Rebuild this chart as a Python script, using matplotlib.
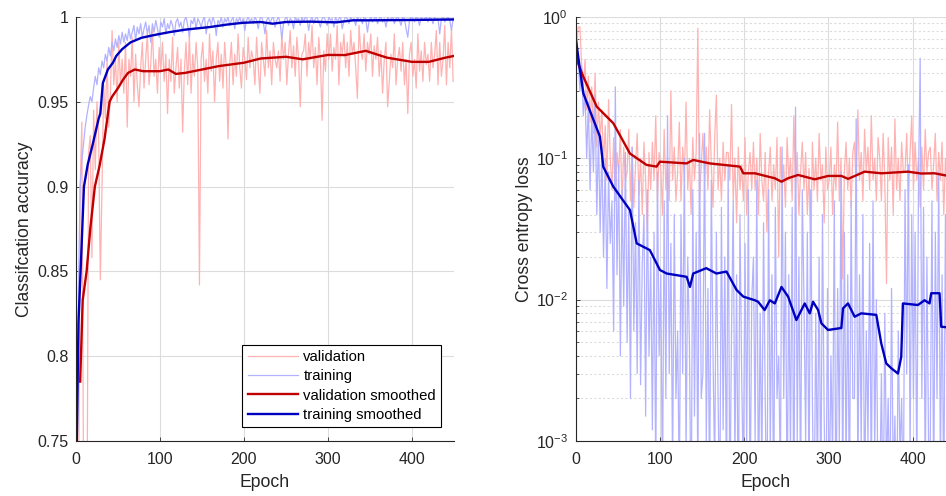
import numpy as np
import matplotlib
matplotlib.use('Agg')
import matplotlib.pyplot as plt

plt.rcParams['font.family'] = ['Liberation Sans', 'DejaVu Sans']

# noisy curves sampled every 2 epochs (1, 3, 5, ..., 449)
noisy_epochs = list(range(1, 450, 2))

train_acc = [
    0.700, 0.840, 0.900, 0.915, 0.925, 0.935, 0.942, 0.948, 0.953, 0.950, 0.958, 0.965, 0.960, 0.970, 0.966,
    0.974, 0.970, 0.978, 0.974, 0.982, 0.977, 0.985, 0.980, 0.987, 0.982, 0.989, 0.984, 0.991, 0.985, 0.990,
    0.986, 0.993, 0.987, 0.991, 0.995, 0.986, 0.994, 0.990, 0.996, 0.988, 0.993, 0.997, 0.990, 0.995, 0.985,
    0.996, 0.991, 0.998, 0.993, 0.988, 0.997, 0.994, 0.999, 0.990, 0.996, 0.993, 0.998, 0.995, 0.989, 0.997,
    0.999, 0.994, 0.997, 0.991, 0.998, 1.000, 0.995, 0.988, 0.998, 0.996, 1.000, 0.993, 0.999, 0.997, 0.994,
    0.998, 1.000, 0.990, 0.997, 0.999, 0.995, 1.000, 0.997, 0.989, 0.998, 0.996, 1.000, 0.994, 0.999, 0.997,
    1.000, 0.995, 0.998, 1.000, 0.993, 0.999, 0.997, 1.000, 0.996, 0.999, 0.992, 0.998, 1.000, 0.997, 0.999,
    0.996, 1.000, 0.998, 0.993, 0.999, 1.000, 0.997, 0.990, 0.998, 1.000, 0.996, 0.999, 1.000, 0.994, 0.998,
    1.000, 0.997, 0.987, 0.996, 0.999, 1.000, 0.995, 0.999, 0.998, 0.993, 1.000, 0.998, 0.999, 0.995, 1.000,
    0.997, 1.000, 0.999, 0.992, 0.998, 1.000, 0.996, 0.999, 1.000, 0.997, 0.994, 0.999, 1.000, 0.998, 0.995,
    1.000, 0.998, 0.999, 0.994, 1.000, 0.997, 0.999, 1.000, 0.993, 0.998, 1.000, 0.999, 0.996, 1.000, 0.998,
    0.999, 0.995, 1.000, 0.998, 0.999, 0.996, 1.000, 0.999, 0.991, 0.998, 1.000, 0.997, 0.999, 1.000, 0.996,
    0.999, 1.000, 0.997, 0.999, 0.994, 1.000, 0.998, 0.999, 1.000, 0.996, 0.999, 1.000, 0.998, 0.995, 1.000,
    0.999, 0.993, 0.988, 0.998, 1.000, 0.999, 0.997, 1.000, 0.999, 0.995, 1.000, 0.998, 0.999, 1.000, 0.997,
    1.000, 0.999, 0.996, 1.000, 0.998, 0.999, 0.990, 0.999, 1.000, 0.997, 0.999, 1.000, 0.998, 0.992, 0.999,
]

val_acc = [
    0.600, 0.700, 0.900, 0.938, 0.720, 0.650, 0.680, 0.920, 0.930, 0.858, 0.945, 0.910, 0.950, 0.930, 0.845,
    0.900, 0.960, 0.940, 0.975, 0.935, 0.955, 0.992, 0.960, 0.975, 0.950, 0.985, 0.960, 0.975, 0.955, 0.985,
    0.935, 0.975, 0.965, 0.988, 0.950, 0.978, 0.960, 0.947, 0.970, 0.985, 0.958, 0.975, 0.990, 0.960, 0.972,
    0.993, 0.965, 0.975, 0.955, 0.982, 0.968, 0.985, 0.962, 0.978, 0.943, 0.975, 0.962, 0.988, 0.955, 0.970,
    0.982, 0.958, 0.975, 0.932, 0.968, 0.985, 0.960, 0.990, 0.955, 0.978, 0.965, 0.985, 0.970, 0.842, 0.975,
    0.985, 0.962, 0.975, 0.955, 0.990, 0.968, 0.980, 0.950, 0.975, 0.985, 0.962, 0.978, 0.958, 0.985, 0.970,
    0.928, 0.972, 0.985, 0.960, 0.978, 0.965, 0.990, 0.970, 0.958, 0.982, 0.975, 0.963, 0.988, 0.970, 0.980,
    0.975, 0.960, 0.988, 0.970, 0.955, 0.985, 0.975, 0.965, 0.992, 0.970, 0.980, 0.960, 0.985, 0.975, 0.970,
    0.980, 0.962, 0.990, 0.975, 0.985, 0.960, 0.978, 0.992, 0.970, 0.983, 0.965, 0.988, 0.975, 0.947, 0.978,
    0.980, 0.990, 0.965, 0.985, 0.975, 0.995, 0.970, 0.982, 0.960, 0.988, 0.975, 0.939, 0.980, 0.968, 0.990,
    0.975, 0.990, 0.968, 0.982, 0.975, 0.995, 0.960, 0.985, 0.978, 0.990, 0.970, 0.985, 0.965, 0.992, 0.978,
    0.985, 0.970, 0.952, 0.995, 0.980, 0.975, 0.990, 0.968, 0.985, 0.978, 0.990, 0.965, 0.983, 0.975, 0.988,
    0.965, 0.980, 0.955, 0.975, 0.985, 0.947, 0.962, 0.978, 0.970, 0.990, 0.960, 0.975, 0.982, 0.968, 0.985,
    0.960, 0.975, 0.943, 0.978, 0.985, 0.965, 0.975, 0.958, 0.990, 0.968, 0.980, 0.962, 0.985, 0.972, 0.978,
    0.962, 0.985, 0.970, 0.978, 0.992, 0.960, 0.985, 0.965, 0.975, 0.995, 0.960, 0.985, 0.970, 0.993, 0.962,
]

train_loss = [
    0.70, 0.50, 0.30, 0.45, 0.20, 0.30, 0.10, 0.25, 0.06, 0.20, 0.08, 0.28, 0.04, 0.15, 0.03,
    0.12, 0.02, 0.10, 0.012, 0.08, 0.025, 0.05, 0.006, 0.32, 0.015, 0.09, 0.004, 0.06, 0.009, 0.11,
    0.005, 0.045, 0.002, 0.12, 0.006, 0.035, 0.003, 0.07, 0.0025, 0.018, 0.04, 0.0015, 0.06, 0.004, 0.02,
    0.0012, 0.03, 0.0005, 0.08, 0.004, 0.015, 0.0004, 0.05, 0.002, 0.2, 0.003, 0.025, 0.0006, 0.04, 0.002,
    0.006, 0.0004, 0.04, 0.003, 0.10, 0.0008, 0.02, 0.005, 0.0002, 0.06, 0.0015, 0.03, 0.0005, 0.15, 0.002,
    0.003, 0.15, 0.001, 0.012, 0.0004, 0.07, 0.004, 0.0006, 0.03, 0.002, 0.0003, 0.045, 0.0012, 0.02, 0.0004,
    0.09, 0.0003, 0.006, 0.05, 0.0007, 0.015, 0.0002, 0.04, 0.003, 0.0005, 0.025, 0.0009, 0.06, 0.0003, 0.01,
    0.02, 0.001, 0.07, 0.0003, 0.008, 0.0006, 0.035, 0.002, 0.0002, 0.06, 0.0008, 0.015, 0.0003, 0.045, 0.002,
    0.004, 0.0005, 0.12, 0.002, 0.03, 0.0003, 0.015, 0.0008, 0.045, 0.0002, 0.23, 0.001, 0.02, 0.0004, 0.06,
    0.01, 0.001, 0.03, 0.0004, 0.06, 0.002, 0.0002, 0.008, 0.0005, 0.02, 0.0003, 0.04, 0.0015, 0.0002, 0.012,
    0.0003, 0.004, 0.0007, 0.05, 0.0002, 0.012, 0.001, 0.08, 0.0004, 0.03, 0.0006, 0.015, 0.0003, 0.05, 0.002,
    0.002, 0.19, 0.0005, 0.015, 0.0009, 0.04, 0.0003, 0.006, 0.001, 0.025, 0.0004, 0.05, 0.0008, 0.01, 0.0003,
    0.0004, 0.003, 0.0002, 0.008, 0.0006, 0.002, 0.0003, 0.012, 0.0005, 0.0015, 0.0002, 0.006, 0.0008, 0.002, 0.0003,
    0.06, 0.003, 0.09, 0.0008, 0.04, 0.002, 0.03, 0.0005, 0.07, 0.51, 0.002, 0.045, 0.0005, 0.02, 0.0009,
    0.001, 0.05, 0.0004, 0.03, 0.002, 0.08, 0.0006, 0.015, 0.0003, 0.04, 0.0012, 0.025, 0.0004, 0.06, 0.003,
]

val_loss = [
    0.60, 0.85, 0.85, 0.45, 0.30, 0.50, 0.22, 0.38, 0.18, 0.32, 0.15, 0.40, 0.12, 0.25, 0.14,
    0.22, 0.09, 0.17, 0.07, 0.26, 0.10, 0.06, 0.14, 0.05, 0.11, 0.08, 0.16, 0.045, 0.12, 0.07,
    0.08, 0.16, 0.05, 0.12, 0.045, 0.09, 0.15, 0.055, 0.10, 0.04, 0.13, 0.07, 0.03, 0.11, 0.06,
    0.13, 0.07, 0.20, 0.05, 0.11, 0.085, 0.04, 0.16, 0.06, 0.10, 0.05, 0.30, 0.07, 0.12, 0.05,
    0.08, 0.18, 0.05, 0.12, 0.07, 0.25, 0.06, 0.10, 0.04, 0.14, 0.07, 0.11, 0.83, 0.05, 0.09,
    0.15, 0.07, 0.12, 0.06, 0.22, 0.09, 0.045, 0.14, 0.28, 0.06, 0.10, 0.05, 0.13, 0.07, 0.11,
    0.11, 0.07, 0.24, 0.05, 0.10, 0.035, 0.12, 0.06, 0.09, 0.05, 0.14, 0.04, 0.08, 0.11, 0.06,
    0.13, 0.06, 0.10, 0.04, 0.15, 0.07, 0.05, 0.11, 0.03, 0.08, 0.12, 0.05, 0.09, 0.06, 0.14,
    0.02, 0.12, 0.06, 0.09, 0.045, 0.14, 0.07, 0.10, 0.05, 0.20, 0.06, 0.11, 0.04, 0.08, 0.13,
    0.06, 0.11, 0.04, 0.085, 0.02, 0.13, 0.06, 0.10, 0.05, 0.15, 0.07, 0.09, 0.035, 0.12, 0.06,
    0.07, 0.12, 0.04, 0.09, 0.06, 0.18, 0.05, 0.10, 0.014, 0.08, 0.13, 0.06, 0.10, 0.045, 0.11,
    0.13, 0.06, 0.22, 0.07, 0.11, 0.05, 0.16, 0.08, 0.12, 0.06, 0.20, 0.07, 0.10, 0.05, 0.14,
    0.10, 0.05, 0.15, 0.07, 0.013, 0.14, 0.07, 0.12, 0.04, 0.19, 0.06, 0.10, 0.05, 0.13, 0.08,
    0.08, 0.15, 0.05, 0.11, 0.20, 0.06, 0.13, 0.07, 0.10, 0.045, 0.12, 0.06, 0.16, 0.08, 0.11,
    0.12, 0.06, 0.09, 0.15, 0.05, 0.11, 0.07, 0.13, 0.04, 0.10, 0.06, 0.14, 0.05, 0.11, 0.08,
]

# smoothed curves (epoch, value)
train_acc_s_ep = [1, 3, 5.5, 9.5, 14, 20, 27, 29, 32, 38, 44, 48, 55, 65, 78,
                  95, 111, 130, 159, 180, 198, 220, 234, 250, 280, 310, 330,
                  350, 400, 450]
train_acc_s = [0.75, 0.82, 0.85, 0.90, 0.913, 0.925, 0.94, 0.943, 0.961,
               0.969, 0.973, 0.977, 0.981, 0.985, 0.9877, 0.9895, 0.991,
               0.9925, 0.994, 0.9955, 0.9965, 0.997, 0.996, 0.997, 0.9972,
               0.9968, 0.998, 0.998, 0.9982, 0.9985]

val_acc_s_ep = [5, 8, 12.7, 17, 22.5, 28, 34, 40, 43, 50, 56, 62, 70, 80, 100,
                110, 119, 130, 150, 170, 200, 220, 250, 270, 300, 320, 345,
                370, 400, 420, 440, 450]
val_acc_s = [0.785, 0.833, 0.85, 0.875, 0.90, 0.912, 0.928, 0.950, 0.953,
             0.958, 0.963, 0.967, 0.969, 0.968, 0.968, 0.969, 0.9664, 0.967,
             0.969, 0.971, 0.973, 0.9755, 0.9765, 0.975, 0.9776, 0.9775,
             0.980, 0.976, 0.9735, 0.9735, 0.976, 0.977]

train_loss_s_ep = [0, 5.1, 9, 21, 28.8, 32.7, 44.6, 64.4, 72.4, 88, 100, 108,
                   131.7, 135.6, 139.5, 155, 167, 179, 191, 199, 212.7, 216.6,
                   224.3, 230.5, 236.4, 244.3, 252.2, 262, 271.9, 277.9,
                   281.8, 287.8, 291.7, 299.6, 315.4, 317.4, 323.3, 331.2,
                   339.1, 356.9, 362.8, 368.7, 374.7, 382.6, 386.5, 388.5,
                   406.3, 414.2, 420.1, 422.1, 432, 434, 450]
train_loss_s = [0.706, 0.42, 0.288, 0.187, 0.142, 0.087, 0.063, 0.043, 0.025,
                0.0224, 0.0162, 0.0153, 0.0145, 0.0123, 0.0153, 0.0167,
                0.0153, 0.0158, 0.0117, 0.0105, 0.0099, 0.00966, 0.00844,
                0.0099, 0.0094, 0.0123, 0.0105, 0.00717, 0.0094, 0.0080,
                0.00966, 0.00844, 0.0068, 0.0061, 0.0063, 0.00868, 0.0094,
                0.00757, 0.0080, 0.0078, 0.0049, 0.00354, 0.00327, 0.0030,
                0.00394, 0.0094, 0.00916, 0.0099, 0.0094, 0.0111, 0.0111,
                0.00643, 0.0063]

val_loss_s_ep = [0, 1.2, 9, 24.9, 44.6, 64.4, 84.2, 96, 100, 131.7, 139.5, 159,
                 195, 199, 212.7, 236.4, 244.3, 252, 264, 283.9, 299.7, 315.5,
                 323.4, 343, 363, 394.6, 410, 426, 439.3, 450]
val_loss_s = [0.65, 0.496, 0.378, 0.232, 0.177, 0.108, 0.0897, 0.0873,
              0.0946, 0.092, 0.0973, 0.092, 0.0873, 0.0783, 0.0783, 0.0722,
              0.0683, 0.0722, 0.0762, 0.0710, 0.075, 0.075, 0.0715, 0.0804,
              0.0783, 0.0804, 0.078, 0.0783, 0.0756, 0.0756]

light_red = '#ffb2b2'
light_blue = '#b2b2ff'
dark_red = '#c00000'
dark_blue = '#0000c0'
axis_col = '#262626'
grid_col = '#dcdcdc'

fig = plt.figure(figsize=(9.46, 4.96), dpi=100)
ax1 = fig.add_axes([0.0803, 0.1109, 0.3996, 0.855])
ax2 = fig.add_axes([0.6086, 0.1109, 0.4006, 0.855])

ax1.plot(noisy_epochs, val_acc, color=light_red, lw=0.9, label='validation')
ax1.plot(noisy_epochs, train_acc, color=light_blue, lw=0.9, label='training')
ax1.plot(val_acc_s_ep, val_acc_s, color=dark_red, lw=1.7,
         label='validation smoothed')
ax1.plot(train_acc_s_ep, train_acc_s, color=dark_blue, lw=1.7,
         label='training smoothed')
ax1.set_xlim(0, 450)
ax1.set_ylim(0.75, 1)
ax1.set_yticks([0.75, 0.8, 0.85, 0.9, 0.95, 1])
ax1.set_yticklabels(['0.75', '0.8', '0.85', '0.9', '0.95', '1'])
ax1.set_ylabel('Classifcation accuracy', fontsize=12.7, color=axis_col,
               labelpad=3)
leg = ax1.legend(loc='lower right', bbox_to_anchor=(0.966, 0.033),
                 borderaxespad=0, fancybox=False, edgecolor='black',
                 fontsize=10.7, handlelength=3.4, framealpha=1,
                 borderpad=0.35, labelspacing=0.35, handletextpad=0.35)
leg.get_frame().set_linewidth(0.8)

ax2.plot(noisy_epochs, val_loss, color=light_red, lw=0.9)
ax2.plot(noisy_epochs, train_loss, color=light_blue, lw=0.9)
ax2.plot(val_loss_s_ep, val_loss_s, color=dark_red, lw=1.7)
ax2.plot(train_loss_s_ep, train_loss_s, color=dark_blue, lw=1.7)
ax2.set_yscale('log')
ax2.set_xlim(0, 450)
ax2.set_ylim(1e-3, 1)
ax2.set_ylabel('Cross entropy loss', fontsize=12.7, color=axis_col,
               labelpad=2)
ax2.grid(True, which='minor', axis='y', color=grid_col, linestyle=(0, (2, 2)),
         linewidth=0.8)

for ax in (ax1, ax2):
    ax.set_xticks([0, 100, 200, 300, 400])
    ax.set_xlabel('Epoch', fontsize=12.7, color=axis_col, labelpad=5)
    ax.grid(True, which='major', color=grid_col, linewidth=0.8)
    ax.set_axisbelow(True)
    for s in ('top', 'right'):
        ax.spines[s].set_visible(False)
    for s in ('left', 'bottom'):
        ax.spines[s].set_color(axis_col)
        ax.spines[s].set_linewidth(0.8)
    ax.tick_params(direction='in', length=3, width=0.6, colors=axis_col,
                   labelsize=11.5, which='major')
    ax.tick_params(direction='in', length=2, width=0.5, colors=axis_col,
                   which='minor')
    ax.tick_params(axis='x', which='major', pad=8)
    ax.tick_params(axis='y', which='major', pad=5.5)

fig.savefig('out.png', dpi=100)
